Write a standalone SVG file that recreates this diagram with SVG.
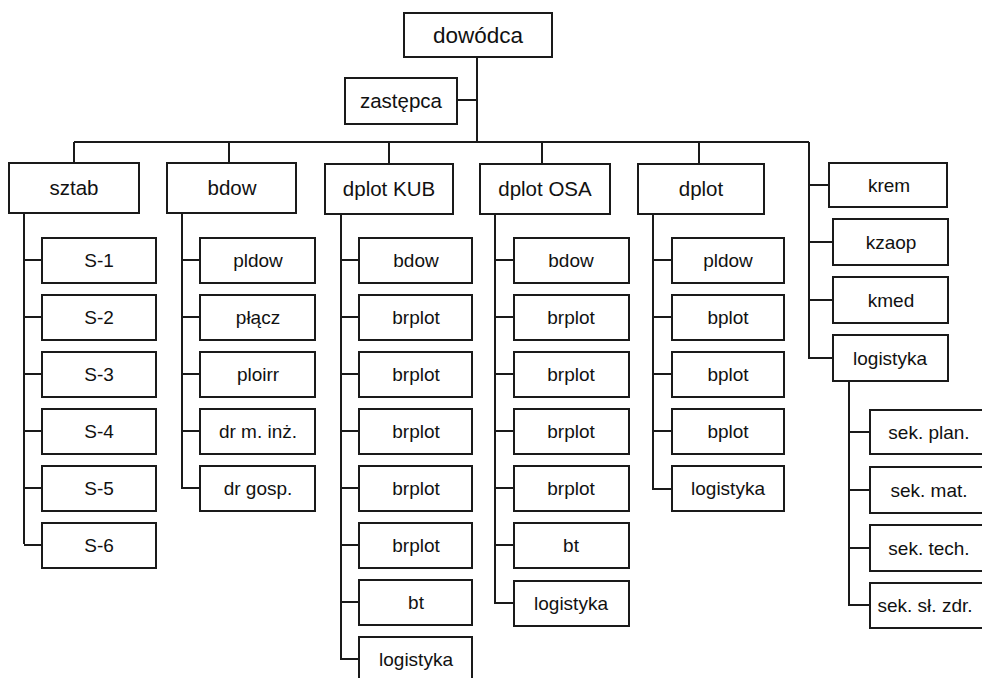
<svg xmlns="http://www.w3.org/2000/svg" width="982" height="678" viewBox="0 0 982 678">
<style>
rect{fill:#fff;stroke:#1a1a1a;stroke-width:2}
text{font-family:"Liberation Sans",Arial,sans-serif;fill:#111;text-anchor:middle}
.c text{font-size:19px}
.h text{font-size:20.5px}
.top text{font-size:22.5px}
#connectors path{fill:none;stroke:#1a1a1a;stroke-width:2}
</style>
<rect x="0" y="0" width="982" height="678" style="fill:#fff;stroke:none"/>
<g id="connectors">
<path d="M477 57V142M457 100H477M74 142H809M74 142V163M229 142V163M389 142V163M542 142V163M699 142V163"/>
<path d="M24 213V544M24 260H42M24 317H42M24 374H42M24 431H42M24 488H42M24 545H42"/>
<path d="M182 213V488H200M182 260H200M182 317H200M182 374H200M182 431H200"/>
<path d="M341 213V659H359M341 260H359M341 317H359M341 374H359M341 431H359M341 488H359M341 545H359M341 602H359"/>
<path d="M495 213V603H514M495 260H514M495 317H514M495 374H514M495 431H514M495 488H514M495 545H514"/>
<path d="M653 213V489H672M653 260H672M653 317H672M653 374H672M653 431H672"/>
<path d="M809 142V358H833M809 185H829M809 242H833M809 300H833"/>
<path d="M849 381V605H870M849 432H870M849 490H870M849 548H870"/>
</g>
<g class="top">
<g id="dowodca"><rect x="404" y="13" width="148" height="44"/><text x="478" y="43">dowódca</text></g>
</g>
<g class="h">
<g id="zastepca"><rect x="345" y="78" width="112" height="46"/><text x="401" y="108">zastępca</text></g>
<g id="sztab"><rect x="9" y="163" width="130" height="50"/><text x="74" y="195">sztab</text></g>
<g id="bdow"><rect x="167" y="163" width="129" height="50"/><text x="232" y="195">bdow</text></g>
<g id="dplotKUB"><rect x="325" y="164" width="128" height="50"/><text x="389" y="196">dplot KUB</text></g>
<g id="dplotOSA"><rect x="480" y="164" width="130" height="50"/><text x="545" y="196">dplot OSA</text></g>
<g id="dplot"><rect x="638" y="164" width="126" height="50"/><text x="701" y="196">dplot</text></g>
</g>
<g class="c">
<g id="s1"><rect x="42" y="238" width="114" height="45"/><text x="99" y="267">S-1</text></g>
<g id="s2"><rect x="42" y="295" width="114" height="45"/><text x="99" y="324">S-2</text></g>
<g id="s3"><rect x="42" y="352" width="114" height="45"/><text x="99" y="381">S-3</text></g>
<g id="s4"><rect x="42" y="409" width="114" height="45"/><text x="99" y="438">S-4</text></g>
<g id="s5"><rect x="42" y="466" width="114" height="45"/><text x="99" y="495">S-5</text></g>
<g id="s6"><rect x="42" y="523" width="114" height="45"/><text x="99" y="552">S-6</text></g>

<g id="b1"><rect x="200" y="238" width="115" height="45"/><text x="258" y="267">pldow</text></g>
<g id="b2"><rect x="200" y="295" width="115" height="45"/><text x="258" y="324">płącz</text></g>
<g id="b3"><rect x="200" y="352" width="115" height="45"/><text x="258" y="381">ploirr</text></g>
<g id="b4"><rect x="200" y="409" width="115" height="45"/><text x="258" y="438">dr m. inż.</text></g>
<g id="b5"><rect x="200" y="466" width="115" height="45"/><text x="258" y="495">dr gosp.</text></g>

<g id="k1"><rect x="359" y="238" width="113" height="45"/><text x="416" y="267">bdow</text></g>
<g id="k2"><rect x="359" y="295" width="113" height="45"/><text x="416" y="324">brplot</text></g>
<g id="k3"><rect x="359" y="352" width="113" height="45"/><text x="416" y="381">brplot</text></g>
<g id="k4"><rect x="359" y="409" width="113" height="45"/><text x="416" y="438">brplot</text></g>
<g id="k5"><rect x="359" y="466" width="113" height="45"/><text x="416" y="495">brplot</text></g>
<g id="k6"><rect x="359" y="523" width="113" height="45"/><text x="416" y="552">brplot</text></g>
<g id="k7"><rect x="359" y="580" width="113" height="45"/><text x="416" y="609">bt</text></g>
<g id="k8"><rect x="359" y="637" width="113" height="46"/><text x="416" y="666">logistyka</text></g>

<g id="o1"><rect x="514" y="238" width="115" height="45"/><text x="571" y="267">bdow</text></g>
<g id="o2"><rect x="514" y="295" width="115" height="45"/><text x="571" y="324">brplot</text></g>
<g id="o3"><rect x="514" y="352" width="115" height="45"/><text x="571" y="381">brplot</text></g>
<g id="o4"><rect x="514" y="409" width="115" height="45"/><text x="571" y="438">brplot</text></g>
<g id="o5"><rect x="514" y="466" width="115" height="45"/><text x="571" y="495">brplot</text></g>
<g id="o6"><rect x="514" y="523" width="115" height="45"/><text x="571" y="552">bt</text></g>
<g id="o7"><rect x="514" y="581" width="115" height="45"/><text x="571" y="610">logistyka</text></g>

<g id="d1"><rect x="672" y="238" width="112" height="45"/><text x="728" y="267">pldow</text></g>
<g id="d2"><rect x="672" y="295" width="112" height="45"/><text x="728" y="324">bplot</text></g>
<g id="d3"><rect x="672" y="352" width="112" height="45"/><text x="728" y="381">bplot</text></g>
<g id="d4"><rect x="672" y="409" width="112" height="45"/><text x="728" y="438">bplot</text></g>
<g id="d5"><rect x="672" y="466" width="112" height="45"/><text x="728" y="495">logistyka</text></g>

<g id="krem"><rect x="829" y="163" width="118" height="44"/><text x="889" y="192">krem</text></g>
<g id="kzaop"><rect x="833" y="219" width="115" height="46"/><text x="891" y="249">kzaop</text></g>
<g id="kmed"><rect x="833" y="277" width="115" height="46"/><text x="891" y="307">kmed</text></g>
<g id="logistyka"><rect x="833" y="335" width="115" height="46"/><text x="890" y="365">logistyka</text></g>

<g id="sek1"><rect x="870" y="410" width="130" height="44"/><text x="929" y="439">sek. plan.</text></g>
<g id="sek2"><rect x="870" y="467" width="130" height="46"/><text x="929" y="497">sek. mat.</text></g>
<g id="sek3"><rect x="870" y="525" width="130" height="46"/><text x="929" y="555">sek. tech.</text></g>
<g id="sek4"><rect x="870" y="583" width="130" height="45"/><text x="925" y="612">sek. sł. zdr.</text></g>
</g>
</svg>
